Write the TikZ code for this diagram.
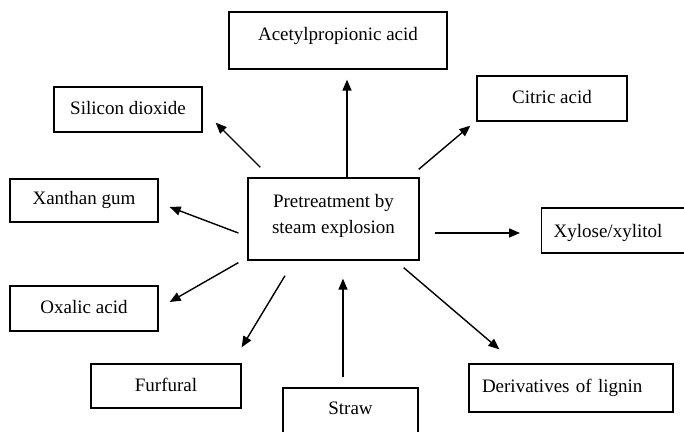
\documentclass[tikz,border=0pt]{standalone}
\usepackage{fontspec}
\setmainfont{Liberation Serif}
\usetikzlibrary{arrows.meta,calc}

\begin{document}
\begin{tikzpicture}[
  x=1pt, y=-1pt, font=\fontsize{19}{26}\selectfont,
  box/.style={draw, line width=1.3pt, inner sep=0pt},
  prod/.style={box, minimum width=148pt, text height=27pt, text depth=18pt},
  lft/.style={box, align=left, inner xsep=12pt, text height=29pt, text depth=16pt},
  ar/.style={-{Triangle[length=11pt,width=9pt]}, line width=1.4pt}]

\useasboundingbox (0,0) rectangle (684,431);

% centre
\node[box, align=center, minimum width=171pt, text height=55pt, text depth=27pt] (pre) at (333.5,219)
  {Pretreatment by\\steam explosion};

% products round it
\node[box, minimum width=218pt, text height=28pt, text depth=29pt] (acet) at (338,40.5)
  {Acetylpropionic acid};
\node[prod] (sil) at (128,109.5) {Silicon dioxide};
\node[prod, minimum width=150pt] (cit) at (552,98.5) {Citric acid};
\node[prod, text height=25pt] (xan) at (84,200.5) {Xanthan gum};
\node[lft, text width=148pt, anchor=west] (xyl) at (541,230.5) {Xylose/xylitol};
\node[prod] (oxa) at (84,308.5) {Oxalic acid};
\node[prod, minimum width=150pt, text height=27pt, text depth=17pt] (fur) at (166,386) {Furfural};
\node[lft, inner xsep=13pt, text width=178pt, text height=28pt, text depth=20pt] (lig) at (571,388)
  {Derivatives of lignin};

% raw material
\node[box, minimum width=135pt, text height=26pt, text depth=36pt] (straw) at (350.5,419) {Straw};

\draw[ar] ($(pre.north)+(13.5,0)$) -- ($(acet.south)+(9,10)$);
\draw[ar] ($(pre.north west)+(13,-10)$) -- ($(sil.south east)+(13,-10)$);
\draw[ar] ($(pre.north east)+(-1,-8)$) -- ($(cit.south west)+(-6,4)$);
\draw[ar] ($(pre.west)+(-9,14)$) -- ($(xan.east)+(11,6.5)$);
\draw[ar] ($(pre.east)+(15,14)$) -- ($(xyl.west)+(-21,2.5)$);
\draw[ar] ($(pre.south west)+(-9,2)$) -- ($(oxa.east)+(11,-6.5)$);
\draw[ar] ($(pre.south)+(-48.5,15)$) -- ($(fur.north east)+(0,-16)$);
\draw[ar] ($(pre.south east)+(-16,7)$) -- ($(lig.north west)+(31,-14)$);
\draw[ar] ($(straw.north)+(-7.5,-10)$) -- ($(pre.south)+(9.5,18)$);
\end{tikzpicture}
\end{document}
